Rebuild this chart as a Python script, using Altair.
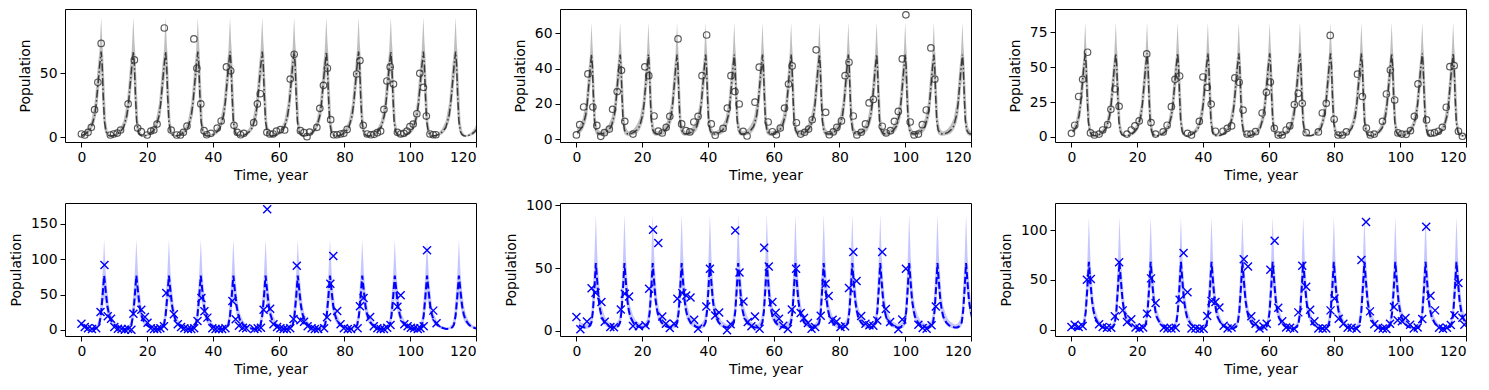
import altair as alt
import pandas as pd

X_DOMAIN = [-5, 120]
X_TICKS = [0, 20, 40, 60, 80, 100, 120]

# cycle shapes: offset from peak (years, for a 9.8-year cycle) and fraction of rise
PREY_DT = [-6.8, -6.0, -5.0, -4.0, -3.0, -2.0, -1.5, -1.0, -0.5, 0.0, 0.3, 0.6, 1.0, 1.5, 2.0, 2.5]
PREY_F = [0.0, 0.005, 0.02, 0.05, 0.10, 0.24, 0.38, 0.60, 0.82, 1.0, 0.85, 0.5, 0.17, 0.05, 0.015, 0.003]
PREY_HI_F = [0.0, 0.006, 0.025, 0.06, 0.12, 0.27, 0.43, 0.59, 0.72, 1.0, 0.8, 0.68, 0.43, 0.12, 0.036, 0.011]
PREY_LO_F = [0.0, 0.004, 0.016, 0.04, 0.097, 0.22, 0.33, 0.54, 0.79, 1.0, 0.57, 0.29, 0.1, 0.03, 0.008, 0.0]
PRED_DT = [-3.8, -3.0, -2.0, -1.5, -1.0, -0.5, 0.0, 0.5, 1.0, 1.5, 2.0, 3.0, 4.0, 5.0]
PRED_F = [0.0, 0.003, 0.03, 0.08, 0.25, 0.6, 1.0, 0.7, 0.42, 0.27, 0.17, 0.08, 0.035, 0.012]
PRED_HI_F = [0.0, 0.006, 0.046, 0.13, 0.35, 0.6, 1.0, 0.62, 0.42, 0.26, 0.165, 0.08, 0.033, 0.015]
PRED_LO_F = [0.0, 0.001, 0.028, 0.07, 0.21, 0.55, 1.0, 0.73, 0.44, 0.28, 0.19, 0.09, 0.04, 0.013]

# ---- panel 1 (top left)
P1_PEAKS = [6.0, 15.8, 25.6, 35.4, 45.2, 55.0, 64.7, 74.5, 84.3, 94.1, 104.0, 113.8, 123.6]
P1_PERIOD = 9.8
P1_MEAN = [0.8, 67]
P1_HI = [1.5, 94]
P1_LO = [0.3, 52]
P1_YDOM = [-3.9, 100.5]
P1_YTICKS = [0, 50]
P1_T = [0, 1, 2, 3, 4, 5, 6, 8.8, 9.8, 10.9, 11.9, 14.2, 16.1, 17.1, 18.2, 20.0, 21.1, 22.0, 23.0, 25.2,
        27.3, 29.0, 30.1, 31.0, 32.1, 34.2, 35.1, 36.3, 37.3, 38.1, 39.4, 41.3, 42.5, 44.1, 45.4, 46.4,
        47.4, 48.4, 49.4, 52.4, 53.5, 54.4, 56.4, 57.3, 58.3, 59.3, 60.5, 61.8, 63.5, 64.7, 66.6, 67.7,
        68.6, 69.4, 71.6, 72.5, 73.6, 74.8, 75.8, 76.7, 77.7, 78.8, 79.8, 80.8, 83.7, 84.7, 85.7, 86.9,
        88.0, 89.0, 90.0, 91.0, 92.0, 92.9, 93.9, 94.9, 96.1, 97.1, 98.1, 99.0, 99.9, 100.9, 102.0, 102.9,
        104.0, 104.9, 106.0, 107.0, 107.8]
P1_Y = [2.4, 1.6, 3.7, 7.6, 21.5, 43, 73.5, 1.6, 2.4, 3.1, 5.5, 26, 60.5, 7, 4.2, 1.6, 4.7, 5.5, 10.2, 85.6,
        5.5, 1.6, 1.6, 3.7, 8.6, 77, 54, 26, 5, 1.8, 2.9, 7, 12.6, 55, 52, 9.2, 3.7, 1.8, 2.9, 11.3,
        26, 34, 3.7, 2.4, 2.4, 4.7, 5.8, 5.5, 45.5, 65, 5, 3.4, 0.3, 3.9, 7.6, 22.5, 40.6, 54, 13.6, 1.8,
        1.8, 2.4, 2.9, 6, 49.5, 60, 9.2, 2.4, 1.8, 2.1, 3.4, 4.7, 21.7, 44, 55, 41.6, 3.7, 2.4, 2.9, 4.7,
        8.1, 10.2, 18.3, 50, 39, 16.5, 2.4, 1.8, 1.8]

# ---- panel 2 (top middle)
P2_PEAKS = [4.6, 13.3, 21.9, 30.6, 39.3, 48.0, 56.6, 65.3, 73.9, 82.7, 91.3, 100.0, 108.7, 117.4, 126.1]
P2_PERIOD = 8.67
P2_MEAN = [3.0, 48]
P2_HI = [4.5, 66]
P2_LO = [2.0, 36]
P2_YDOM = [-1.5, 73.7]
P2_YTICKS = [0, 20, 40, 60]
P2_T = [0, 1.0, 2.2, 3.5, 5.0, 6.2, 7.4, 8.5, 10.0, 11.0, 12.4, 13.7, 14.7, 17.2, 20.8, 22.0, 23.6, 24.9,
        26.1, 27.3, 28.4, 30.9, 32.0, 33.3, 34.5, 35.7, 37.0, 38.2, 39.6, 41.0, 42.2, 44.6, 45.9, 47.0,
        48.2, 49.5, 50.7, 51.9, 54.3, 55.6, 58.3, 59.6, 60.8, 62.0, 63.3, 64.5, 65.6, 66.9, 68.2, 69.4,
        70.6, 71.7, 72.9, 75.8, 76.9, 78.1, 79.2, 80.6, 81.7, 82.9, 84.2, 85.3, 86.6, 87.9, 89.0, 90.3,
        93.0, 94.2, 95.5, 96.7, 97.9, 99.1, 100.2, 101.5, 102.7, 104.0, 105.2, 106.4, 107.8, 109.0]
P2_Y = [2.5, 8.3, 18.3, 37, 18.3, 7.9, 1.7, 3.8, 5.8, 17, 27, 39, 10.2, 3, 41, 36, 13.2, 4.7, 3.6, 6.8,
        13, 56.8, 8.7, 4.9, 4.2, 9.8, 13, 36, 59, 8.7, 2.3, 6.2, 17.7, 36, 27, 20, 4.5, 1.9, 21, 40.8,
        9.8, 4.3, 2.6, 6.4, 17.7, 31.3, 41.5, 9.4, 3, 4, 5.8, 11.1, 50.6, 15.3, 2.6, 4.2, 6.8, 10.4, 36, 43.6,
        13.2, 2.5, 4, 8.7, 20.6, 22.6, 7.4, 3.6, 4.9, 10.2, 15.8, 45.5, 70.4, 9.8, 2.5, 3, 8.3, 16.6, 51.7, 34]

# ---- panel 3 (top right)
P3_PEAKS = [4.2, 13.5, 23.0, 32.3, 41.5, 50.9, 60.3, 69.5, 78.8, 88.2, 97.4, 106.7, 116.1, 125.4]
P3_PERIOD = 9.3
P3_MEAN = [0.8, 60]
P3_HI = [1.5, 82]
P3_LO = [0.3, 45]
P3_YDOM = [-3.6, 91.7]
P3_YTICKS = [0, 25, 50, 75]
P3_T = [0, 1.0, 2.2, 3.4, 4.9, 5.8, 7.0, 8.4, 9.5, 11.0, 12.0, 13.3, 14.5, 16.9, 18.2, 19.3, 20.6, 22.9,
        24.2, 25.6, 27.9, 29.1, 30.4, 31.5, 32.9, 35.3, 36.5, 38.9, 40.0, 41.3, 42.5, 43.8, 46.1, 47.4,
        48.7, 49.7, 51.0, 52.2, 53.4, 54.6, 56.0, 58.0, 59.3, 60.5, 61.7, 62.9, 64.1, 65.3, 66.4, 67.8,
        69.0, 70.2, 71.4, 75.1, 76.3, 77.5, 78.7, 79.9, 81.1, 82.4, 83.6, 87.0, 88.5, 89.7, 90.9, 92.1,
        94.6, 95.8, 97.0, 98.3, 99.3, 100.5, 101.8, 103.1, 104.3, 105.4, 108.0, 109.2, 110.4, 111.6,
        112.8, 114.0, 115.1, 116.4, 117.7, 118.9]
P3_Y = [2.6, 8.4, 29, 41.3, 60.7, 2.9, 1.4, 2.1, 5, 8.8, 19.8, 34.4, 22, 2.1, 5, 7.9, 11.5, 59.5, 10.3, 2.1,
        3.6, 8.4, 21.7, 41.3, 43.7, 2.6, 1.4, 11.2, 43, 35.6, 23.6, 4.1, 4.1, 6.2, 7.9, 42.3, 39.2, 19.3, 2.1,
        2.1, 3.8, 17.2, 32, 39.4, 6.2, 1.4, 1.4, 5, 7.9, 23.2, 31.3, 24.1, 3.1, 3.6, 17.2, 24.1, 72.8, 12.7,
        1.4, 1.4, 3.6, 45, 29, 6.4, 1.4, 2.1, 11.2, 30.8, 48, 26.5, 2.9, 2.1, 1.9, 4.5, 14.8, 38, 12.2, 2.6,
        3.1, 4.1, 6.9, 21.3, 50.4, 51.1, 4.1, 0.5]

# ---- panel 4 (bottom left)
P4_PEAKS = [-2.9, 6.9, 16.7, 26.6, 36.3, 46.2, 56.0, 65.8, 75.6, 85.4, 95.3, 105.1, 114.8, 124.6]
P4_PERIOD = 9.8
P4_MEAN = [1.5, 77]
P4_HI = [3.0, 128]
P4_LO = [0.8, 46]
P4_YDOM = [-8.5, 179.7]
P4_YTICKS = [0, 50, 100, 150]
P4_T = [0, 1.0, 2.0, 3.2, 4.5, 5.8, 7.0, 8.0, 9.0, 10.0, 11.1, 12.2, 13.2, 14.2, 15.2, 15.8, 18.2, 19.3,
        20.1, 21.1, 22.1, 23.1, 24.0, 25.1, 25.8, 28.1, 29.3, 30.3, 31.3, 32.4, 33.4, 34.3, 35.3, 36.5,
        37.4, 38.3, 39.8, 40.8, 41.8, 42.8, 43.8, 45.9, 46.9, 47.9, 49.1, 50.1, 52.6, 53.6, 54.6, 55.4,
        56.5, 57.4, 58.4, 59.5, 60.5, 61.5, 62.5, 63.5, 64.5, 65.5, 66.6, 67.7, 68.8, 70.0, 71.0, 72.0,
        73.8, 74.7, 75.7, 76.6, 77.8, 78.8, 79.8, 81.0, 82.0, 84.0, 84.7, 85.8, 87.8, 88.9, 90.0, 91.0,
        92.0, 93.0, 94.0, 96.1, 97.1, 98.2, 99.2, 100.2, 101.2, 102.3, 103.1, 104.1, 105.1, 107.0, 108.0]
P4_Y = [9, 4.2, 2.4, 1.4, 2.4, 25.5, 92, 19.3, 16, 4.2, 1.9, 1.4, 0.5, 1.4, 0.5, 23, 28.8, 18.4, 10.4, 2.4,
        1.4, 1.4, 2.4, 5.2, 52.4, 22.2, 8, 4.2, 2.4, 1.4, 1.4, 2.4, 12.7, 45.3, 26.4, 17.5, 2.4, 1.4, 1.4, 1.4,
        2.4, 41, 15.1, 6.1, 3.3, 2.4, 1.4, 2.4, 3.3, 28.8, 171, 30.2, 8, 4.2, 2.4, 1.4, 1.4, 2.4, 15.6, 91,
        13.7, 11.8, 5.2, 2.4, 1.4, 1.4, 2.4, 17.9, 65.6, 104.7, 26.9, 8, 2.4, 1.4, 1.4, 2.4, 33.5, 45.3, 18.4,
        5.2, 2.4, 1.4, 1.4, 3.3, 7.1, 33, 49, 8, 5.2, 3.3, 2.4, 1.4, 2.4, 5.2, 113, 27.4, 9.4]

# ---- panel 5 (bottom middle)
P5_PEAKS = [-2.8, 5.9, 14.6, 23.2, 32.0, 40.6, 49.2, 57.9, 66.6, 75.2, 83.9, 92.4, 101.2, 109.8, 118.5, 127.2]
P5_PERIOD = 8.67
P5_MEAN = [2.5, 54]
P5_HI = [5.0, 93]
P5_LO = [1.5, 36]
P5_YDOM = [-4.2, 101.9]
P5_YTICKS = [0, 50, 100]
P5_T = [0, 1.2, 3.2, 4.6, 5.8, 7.6, 8.6, 10.3, 11.4, 13.5, 14.7, 16.0, 17.2, 19.0, 21.0, 22.1, 23.3, 24.9,
        26.1, 27.2, 28.4, 29.7, 30.7, 32.2, 33.4, 34.7, 35.8, 37.0, 39.5, 40.6, 42.2, 43.4, 45.8, 46.9,
        48.3, 49.6, 50.8, 52.1, 53.2, 54.3, 55.7, 57.1, 58.5, 59.6, 60.6, 61.6, 62.9, 64.3, 65.5, 66.8,
        68.2, 69.2, 70.4, 71.5, 72.6, 74.3, 75.8, 76.7, 77.9, 79.1, 80.3, 81.7, 82.9, 84.2, 85.2, 86.6,
        87.9, 89.1, 90.3, 91.5, 93.0, 94.1, 95.4, 97.9, 99.1, 100.2, 104.0, 105.3, 106.5, 108.0, 109.3]
P5_Y = [10.9, 1.1, 7.4, 33.8, 30.3, 22.9, 7.2, 2.9, 2.7, 17, 29.5, 27.4, 3.7, 3.5, 4.3, 33.5, 80.6, 70, 11.4,
        5.6, 2.1, 5.6, 25.5, 30, 28.2, 26.6, 8.8, 1.6, 19.4, 49.5, 12.2, 14.6, 0.3, 5.1, 80, 46.5, 23.4, 6.9,
        3.5, 11.4, 1.6, 66.2, 51.3, 22.9, 14.4, 9.6, 4, 1.3, 17, 49.5, 14.1, 10.1, 6.1, 1.6, 2.9, 12, 37.5,
        27.7, 8.8, 7.4, 2.9, 3.5, 34, 62.8, 39.6, 11.7, 5.6, 4.3, 4, 8.2, 62.8, 17.3, 6.9, 1.1, 9, 49.5, 4.8,
        2.1, 1.6, 4.3, 19.4]

# ---- panel 6 (bottom right)
P6_PEAKS = [-4.0, 5.3, 14.6, 24.1, 33.3, 42.6, 52.0, 61.2, 70.5, 79.8, 89.1, 98.5, 107.7, 117.1, 126.4]
P6_PERIOD = 9.3
P6_MEAN = [1.0, 68]
P6_HI = [2.5, 113]
P6_LO = [0.5, 44]
P6_YDOM = [-6.3, 127.1]
P6_YTICKS = [0, 50, 100]
P6_T = [0, 1.0, 2.2, 3.4, 4.7, 5.9, 8.4, 9.5, 10.8, 12.1, 13.2, 14.5, 15.6, 16.9, 18.2, 19.5, 20.7, 21.8,
        23.0, 24.2, 25.6, 28.1, 29.2, 30.4, 31.7, 32.9, 34.1, 35.3, 36.5, 37.7, 39.0, 40.2, 41.3, 42.6,
        43.8, 45.0, 46.3, 47.5, 48.7, 52.4, 53.7, 54.7, 56.0, 57.2, 58.4, 59.4, 60.5, 61.8, 62.9, 64.1,
        65.3, 66.5, 67.7, 69.0, 70.2, 71.4, 72.6, 73.9, 75.1, 76.4, 77.5, 78.8, 80.0, 81.3, 82.7, 84.0,
        85.2, 86.7, 88.2, 89.6, 90.8, 92.1, 93.3, 94.7, 95.8, 96.9, 98.1, 99.2, 100.5, 101.6, 103.0, 104.1,
        105.3, 106.7, 107.9, 109.2, 110.6, 111.8, 113.0, 114.2, 115.4, 116.5, 117.7, 118.9, 119.5]
P6_Y = [2.7, 5, 2.7, 3.7, 50.2, 50.8, 5.4, 2.7, 2, 2, 13.4, 67.6, 19.4, 7.7, 10.4, 2.3, 1.3, 2.3, 16, 51.5,
        26.8, 2, 1.3, 1.3, 2, 30, 77, 37.5, 1.3, 1.3, 0.7, 1, 13.7, 28.8, 27.8, 22.4, 4, 1.3, 2.3, 70.6,
        63.5, 13.4, 6, 1.3, 3.3, 6, 60.2, 89.3, 22, 8.4, 2.3, 2, 1, 17.4, 64.2, 43.1, 20, 8.4, 1.3, 1.3,
        1.3, 19.4, 31.4, 11, 6, 2, 2, 1, 69.9, 108, 18.4, 5.4, 2, 1.3, 0.7, 6, 22.7, 9.4, 8.4, 11.7,
        5, 1.3, 2.3, 10.7, 103.3, 34.1, 19.4, 2, 1, 2, 4.7, 14.4, 46.8, 12, 5]

PANEL_W = 411
PANEL_H = 133
FONT = "DejaVu Sans"


def build_curve(peaks, period, dts, f_mean, f_hi, f_lo, mean, hi, lo):
    s = period / 9.8
    rows = []
    for p in peaks:
        for dt, fm, fh, fl in zip(dts, f_mean, f_hi, f_lo):
            rows.append({
                "t": p + dt * s,
                "mean": mean[0] + (mean[1] - mean[0]) * fm,
                "hi": hi[0] + (hi[1] - hi[0]) * fh,
                "lo": lo[0] + (lo[1] - lo[0]) * fl,
            })
    df = pd.DataFrame(rows).sort_values("t")
    return df[(df["t"] >= 0) & (df["t"] <= 126)]


def panel(curve, obs_t, obs_y, ydom, yticks, prey):
    n = min(len(obs_t), len(obs_y))
    obs = pd.DataFrame({"t": obs_t[:n], "y": obs_y[:n]})
    xs = alt.Scale(domain=X_DOMAIN, nice=False, zero=False)
    ys = alt.Scale(domain=ydom, nice=False, zero=False)
    xax = alt.Axis(values=X_TICKS, title="Time, year", format="d")
    yax = alt.Axis(values=yticks, title="Population", format="d")
    x = alt.X("t:Q", scale=xs, axis=xax)
    if prey:
        band_color, band_op = "#808080", 0.5
        line = alt.Chart(curve).mark_line(clip=True, color="#3a3a3a", strokeWidth=1.5,
                                          strokeDash=[8, 2.5, 1.5, 2.5])
        pts = alt.Chart(obs).mark_point(clip=True, shape="circle", filled=False, color="#333333",
                                        size=42, strokeWidth=1.2, opacity=0.8)
    else:
        band_color, band_op = "#0000ff", 0.22
        line = alt.Chart(curve).mark_line(clip=True, color="#0000ff", strokeWidth=2, strokeDash=[7, 3])
        pts = alt.Chart(obs).mark_point(clip=True, shape="M-1,-1L1,1M-1,1L1,-1", filled=False,
                                        color="#0000ff", size=64, strokeWidth=1.4, opacity=1)
    band = alt.Chart(curve).mark_area(clip=True, color=band_color, opacity=band_op).encode(
        x=x, y=alt.Y("hi:Q", scale=ys, axis=yax), y2="lo:Q")
    line = line.encode(x=x, y=alt.Y("mean:Q", scale=ys, axis=yax))
    pts = pts.encode(x=x, y=alt.Y("y:Q", scale=ys, axis=yax))
    return alt.layer(band, line, pts).properties(width=PANEL_W, height=PANEL_H)


c1 = build_curve(P1_PEAKS, P1_PERIOD, PREY_DT, PREY_F, PREY_HI_F, PREY_LO_F, P1_MEAN, P1_HI, P1_LO)
c2 = build_curve(P2_PEAKS, P2_PERIOD, PREY_DT, PREY_F, PREY_HI_F, PREY_LO_F, P2_MEAN, P2_HI, P2_LO)
c3 = build_curve(P3_PEAKS, P3_PERIOD, PREY_DT, PREY_F, PREY_HI_F, PREY_LO_F, P3_MEAN, P3_HI, P3_LO)
c4 = build_curve(P4_PEAKS, P4_PERIOD, PRED_DT, PRED_F, PRED_HI_F, PRED_LO_F, P4_MEAN, P4_HI, P4_LO)
c5 = build_curve(P5_PEAKS, P5_PERIOD, PRED_DT, PRED_F, PRED_HI_F, PRED_LO_F, P5_MEAN, P5_HI, P5_LO)
c6 = build_curve(P6_PEAKS, P6_PERIOD, PRED_DT, PRED_F, PRED_HI_F, PRED_LO_F, P6_MEAN, P6_HI, P6_LO)

panels = [
    panel(c1, P1_T, P1_Y, P1_YDOM, P1_YTICKS, True),
    panel(c2, P2_T, P2_Y, P2_YDOM, P2_YTICKS, True),
    panel(c3, P3_T, P3_Y, P3_YDOM, P3_YTICKS, True),
    panel(c4, P4_T, P4_Y, P4_YDOM, P4_YTICKS, False),
    panel(c5, P5_T, P5_Y, P5_YDOM, P5_YTICKS, False),
    panel(c6, P6_T, P6_Y, P6_YDOM, P6_YTICKS, False),
]

chart = alt.concat(*panels, columns=3, spacing={"row": 61, "column": 84}, bounds="flush").properties(
    padding={"left": 0, "top": 0, "right": 5, "bottom": 5}
).configure_view(
    stroke="black", strokeWidth=1
).configure_axis(
    grid=False, domain=False, tickColor="black", tickSize=5, tickWidth=1,
    labelFont=FONT, labelFontSize=13.9, labelColor="black", labelPadding=3,
    titleFont=FONT, titleFontSize=13.9, titleFontWeight="normal", titleColor="black",
).configure_axisX(titlePadding=5).configure_axisY(titlePadding=7)

chart.save("out.html", embed_options={"renderer": "svg", "actions": False})
